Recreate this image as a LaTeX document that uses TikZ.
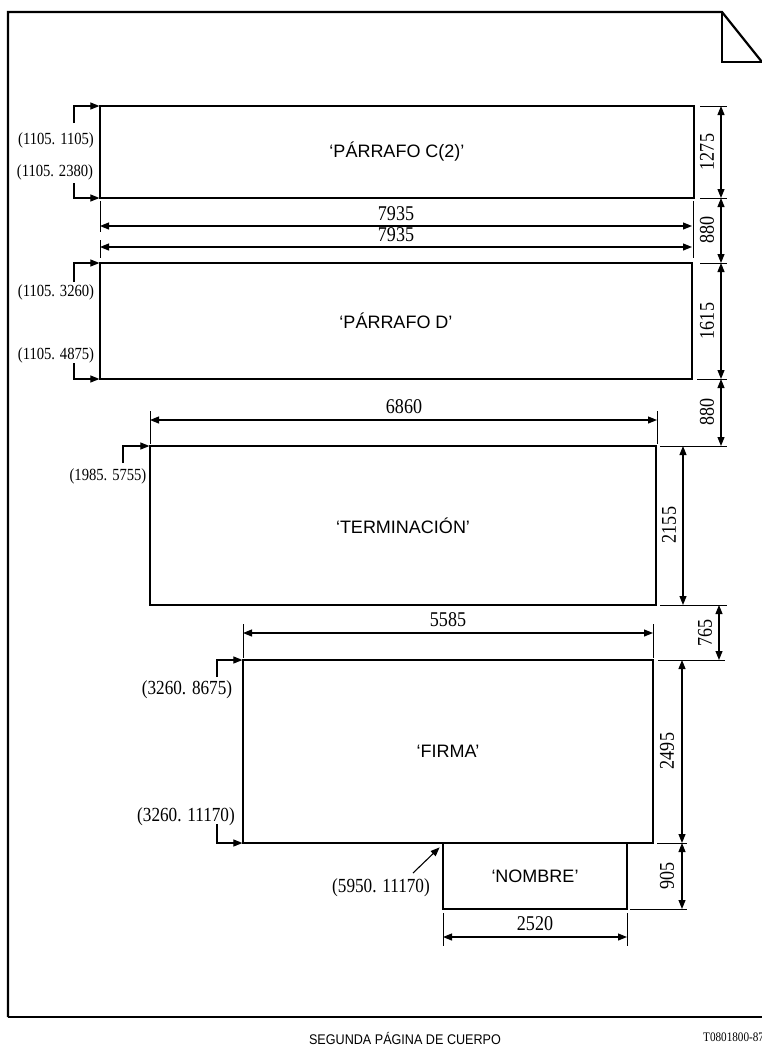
\documentclass[tikz,border=0pt]{standalone}
\usepackage{fontspec}
\setmainfont{Liberation Serif}
\setsansfont{Liberation Sans}
\newfontfamily\numfont[FakeStretch=0.86]{Liberation Serif}
\newfontfamily\footfont[FakeStretch=0.9]{Liberation Sans}
\usetikzlibrary{arrows.meta}
\begin{document}
\begin{tikzpicture}[x=1pt,y=-1pt,
  frame/.style={line width=2.2pt},
  box/.style={draw,line width=1.5pt,inner sep=0pt,outer sep=0pt,anchor=north west,font=\sffamily\fontsize{18}{21}\selectfont},
  dim/.style={line width=1.1pt,{Triangle[length=9pt,width=7pt]}-{Triangle[length=9pt,width=7pt]}},
  ext/.style={line width=0.9pt},
  ptr/.style={line width=1.1pt,-{Triangle[length=9pt,width=7pt]},shorten >=0.6pt},
  dimlab/.style={font=\numfont\fontsize{21}{23}\selectfont,inner sep=0pt},
  coordlab/.style={font=\numfont\fontsize{17}{19}\selectfont,inner sep=0pt},
  bigcoord/.style={font=\numfont\fontsize{20}{22}\selectfont,inner sep=0pt},
]
\useasboundingbox (0,0) rectangle (762,1053);
% page frame with folded corner
\draw[frame] (8,1017) -- (8,12) -- (722,12) -- (762,62);
\draw[frame] (722,12) -- (722,62) -- (762,62);
\draw[frame] (8,1017) -- (762,1017);

% boxes
\node[box,minimum width=594pt,minimum height=92pt] (C) at (100,106) {‘PÁRRAFO C(2)’};
\node[box,minimum width=592pt,minimum height=116pt] (D) at (100,263) {‘PÁRRAFO D’};
\node[box,minimum width=506pt,minimum height=159pt] (T) at (150,446) {‘TERMINACIÓN’};
\node[box,minimum width=410pt,minimum height=183pt] (F) at (243,660) {‘FIRMA’};
\node[box,minimum width=184pt,minimum height=66pt] (N) at (443,843) {‘NOMBRE’};

% right-hand vertical dimension chain
\coordinate (r1) at (721,106);
\coordinate (r2) at (721,198);
\coordinate (r3) at (721,263);
\coordinate (r4) at (721,379);
\coordinate (r5) at (721,446);
\draw[dim] (r1) -- (r2);
\draw[dim] (r2) -- (r3);
\draw[dim] (r3) -- (r4);
\draw[dim] (r4) -- (r5);
\draw[ext] (700,106) -- (727,106);
\draw[ext] (700,198) -- (727,198);
\draw[ext] (700,263) -- (727,263);
\draw[ext] (697,379) -- (727,379);
\draw[ext] (660,446) -- (727,446);
\node[dimlab,rotate=90] (l1275) at (707,152) {1275};
\node[dimlab,rotate=90] (l880a) at (707,230) {880};
\node[dimlab,rotate=90] (l1615) at (707,321) {1615};
\node[dimlab,rotate=90] (l880b) at (707,412) {880};

\coordinate (s1) at (683,446);
\coordinate (s2) at (683,605);
\coordinate (s3) at (719,605);
\coordinate (s4) at (719,660);
\coordinate (s5) at (682,660);
\coordinate (s6) at (682,843);
\coordinate (s7) at (682,909);
\draw[dim] (s1) -- (s2);
\draw[dim] (s3) -- (s4);
\draw[dim] (s5) -- (s6);
\draw[dim] (s6) -- (s7);
\draw[ext] (660,605) -- (727,605);
\draw[ext] (658,660) -- (725,660);
\draw[ext] (657,843) -- (687,843);
\draw[ext] (630,909) -- (687,909);
\node[dimlab,rotate=90] (l2155) at (669,525) {2155};
\node[dimlab,rotate=90] (l765) at (705,633) {765};
\node[dimlab,rotate=90] (l2495) at (667,751) {2495};
\node[dimlab,rotate=90] (l905) at (667,876) {905};

% horizontal dimensions
\coordinate (h1a) at (100,226); \coordinate (h1b) at (692,226);
\coordinate (h2a) at (100,247); \coordinate (h2b) at (692,247);
\draw[dim] (h1a) -- (h1b);
\draw[dim] (h2a) -- (h2b);
\draw[ext] (100,201) -- (100,232);
\draw[ext] (100,240) -- (100,258);
\draw[ext] (693,201) -- (693,258);
\node[dimlab] (l7935a) at (396,214) {7935};
\node[dimlab] (l7935b) at (396,235) {7935};

\coordinate (h3a) at (150,420); \coordinate (h3b) at (657,420);
\draw[dim] (h3a) -- (h3b);
\draw[ext] (150,411) -- (150,444);
\draw[ext] (657,411) -- (657,444);
\node[dimlab] (l6860) at (404,407) {6860};

\coordinate (h4a) at (243,633); \coordinate (h4b) at (653,633);
\draw[dim] (h4a) -- (h4b);
\draw[ext] (243,624) -- (243,658);
\draw[ext] (653,624) -- (653,658);
\node[dimlab] (l5585) at (448,620) {5585};

\coordinate (h5a) at (443,937); \coordinate (h5b) at (627,937);
\draw[dim] (h5a) -- (h5b);
\draw[ext] (443,913) -- (443,946);
\draw[ext] (627,913) -- (627,946);
\node[dimlab] (l2520) at (535,924) {2520};

% coordinate pointers
\coordinate (p1) at (74,123);
\coordinate (p2) at (74,183);
\coordinate (p3) at (74,282);
\coordinate (p4) at (74,363);
\coordinate (p5) at (123,463);
\coordinate (p6) at (217,677);
\coordinate (p7) at (217,824);
\coordinate (p8) at (413,873);
\draw[ptr] (p1) |- (C.north west);
\draw[ptr] (p2) |- (C.south west);
\draw[ptr] (p3) |- (D.north west);
\draw[ptr] (p4) |- (D.south west);
\draw[ptr] (p5) |- (T.north west);
\draw[ptr] (p6) |- (F.north west);
\draw[ptr] (p7) |- (F.south west);
\draw[ptr] (p8) -- ([xshift=-3pt,yshift=-4pt]N.north west);

\node[coordlab] (c1) at (56,140) {(1105. 1105)};
\node[coordlab] (c2) at (55,172) {(1105. 2380)};
\node[coordlab] (c3) at (56,292) {(1105. 3260)};
\node[coordlab] (c4) at (56,355) {(1105. 4875)};
\node[coordlab] (c5) at (108,476) {(1985. 5755)};
\node[bigcoord] (c6) at (187,690) {(3260. 8675)};
\node[bigcoord] (c7) at (186,817) {(3260. 11170)};
\node[bigcoord] (c8) at (381,888) {(5950. 11170)};

% footer
\node[font=\footfont\fontsize{14}{16}\selectfont] (foot) at (405,1038) {SEGUNDA PÁGINA DE CUERPO};
\node[font=\numfont\fontsize{13}{15}\selectfont,anchor=west,inner sep=0pt] (ref) at (703,1037) {T0801800-87};
\end{tikzpicture}
\end{document}
